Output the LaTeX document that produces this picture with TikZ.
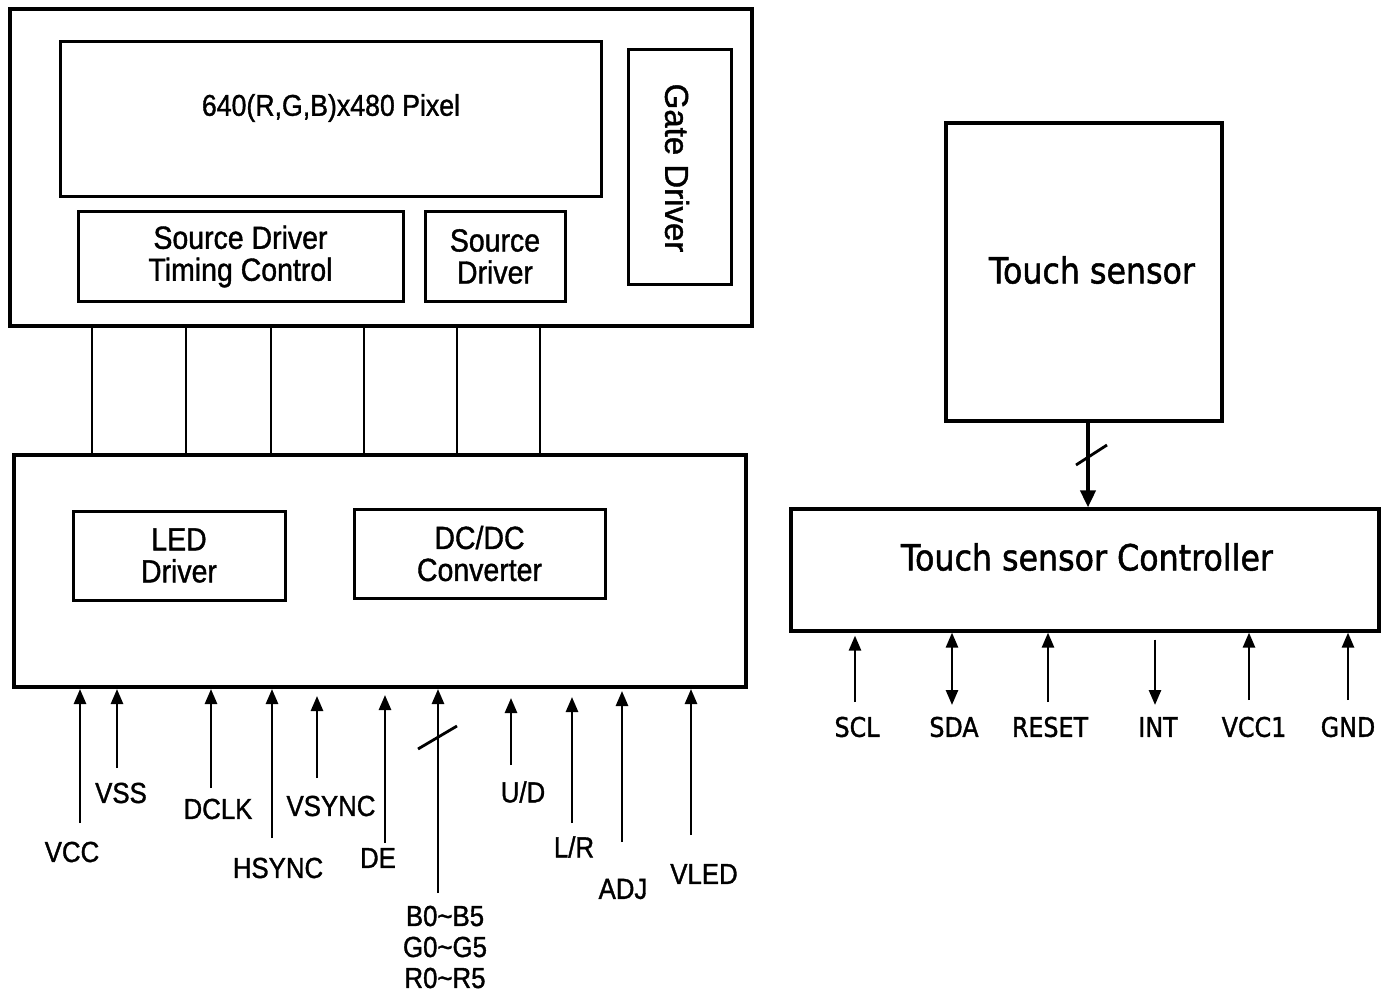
\documentclass[tikz,border=0pt]{standalone}
\usepackage{fontspec}
\usetikzlibrary{arrows.meta,calc}
\newfontfamily\arialc{Liberation Sans}[FakeStretch=0.89,FakeBold=1.2]
\newfontfamily\arialn{Liberation Sans}[FakeBold=1.2]
\newfontfamily\tah{DejaVu Sans}[FakeStretch=0.88,FakeBold=1.4]
\begin{document}
\begin{tikzpicture}[x=1pt,y=-1pt,
  outerbox/.style={draw,line width=4pt,inner sep=0pt},
  innerbox/.style={draw,line width=3pt,inner sep=0pt,align=center,font=\arialc\fontsize{32}{32}\selectfont},
  tbox/.style={draw,line width=3.2pt,inner sep=0pt},
  lbl/.style={inner sep=0pt,align=center,font=\arialc\fontsize{29}{31}\selectfont},
  plbl/.style={inner sep=0pt,font=\tah\fontsize{27}{27}\selectfont},
  conn/.style={line width=2.4pt},
  arr/.style={line width=2.6pt,-{Triangle[length=15pt,width=12pt]}},
  darr/.style={line width=2.6pt,{Triangle[length=15pt,width=12pt]}-{Triangle[length=15pt,width=12pt]}},
  slash/.style={line width=2.8pt}
]
\useasboundingbox[fill=white] (0,0) rectangle (1384,995);

% ---------- LCD module ----------
\node[outerbox,minimum width=742pt,minimum height=317pt] (topbox) at (381,167.5) {};
\node[innerbox,minimum width=541pt,minimum height=155pt] (pixel) at (330.5,119.5) {};
\node[inner sep=0pt,font=\arialc\fontsize{30}{30}\selectfont] (pixeltext) at (331,108) {640(R,G,B)x480 Pixel};
\node[innerbox,minimum width=103pt,minimum height=234pt] (gate) at (679.5,167) {};
\node[inner sep=0pt,rotate=-90,font=\arialn\fontsize{33}{33}\selectfont] (gatetext) at (677,168) {Gate Driver};
\node[innerbox,minimum width=325pt,minimum height=89pt] (sdtc) at (240.5,256.5) {Source Driver\\Timing Control};
\node[innerbox,minimum width=140pt,minimum height=89pt] (sd) at (495,256.5) {Source\\Driver};

\node[outerbox,minimum width=732pt,minimum height=232pt] (botbox) at (380,571) {};
\node[innerbox,minimum width=212pt,minimum height=89pt] (led) at (179,555.5) {LED\\Driver};
\node[innerbox,minimum width=251pt,minimum height=89pt] (dcdc) at (479.5,553.5) {DC/DC\\Converter};

% connections between the two blocks
\foreach \i/\xx in {1/92,2/186,3/271,4/364,5/457,6/540}{
  \coordinate (k\i) at (\xx,400);
  \draw[conn] (topbox.south -| k\i) -- (botbox.north -| k\i);
}

% ---------- input signals ----------
\coordinate (vccS) at (80,823);
\coordinate (vssS) at (117,768);
\coordinate (dclkS) at (211,788);
\coordinate (hsyncS) at (272,838);
\coordinate (vsyncS) at (317,778);
\coordinate (deS) at (385,843);
\coordinate (rgbS) at (438,893);
\coordinate (udS) at (511,765);
\coordinate (lrS) at (572,823);
\coordinate (adjS) at (622,842);
\coordinate (vledS) at (691,835);

\draw[arr] (vccS) -- (botbox.south -| vccS);
\draw[arr] (vssS) -- (botbox.south -| vssS);
\draw[arr] (dclkS) -- (botbox.south -| dclkS);
\draw[arr] (hsyncS) -- (botbox.south -| hsyncS);
\draw[arr,shorten >=7pt] (vsyncS) -- (botbox.south -| vsyncS);
\draw[arr,shorten >=6pt] (deS) -- (botbox.south -| deS);
\draw[arr] (rgbS) -- (botbox.south -| rgbS);
\draw[arr,shorten >=9pt] (udS) -- (botbox.south -| udS);
\draw[arr,shorten >=8pt] (lrS) -- (botbox.south -| lrS);
\draw[arr,shorten >=2pt] (adjS) -- (botbox.south -| adjS);
\draw[arr] (vledS) -- (botbox.south -| vledS);
\coordinate (rgbslash) at (438,737.5);
\draw[slash] ($(rgbslash)+(-20,11.5)$) -- ($(rgbslash)+(19,-11.5)$);

\node[lbl] (vcc) at (72,852) {VCC};
\node[lbl] (vss) at (121,793) {VSS};
\node[lbl] (dclk) at (218,809) {DCLK};
\node[lbl] (hsync) at (278,868) {HSYNC};
\node[lbl] (vsync) at (331,806) {VSYNC};
\node[lbl] (de) at (378,858) {DE};
\node[lbl] (rgb) at (445,947) {B0\textasciitilde B5\\G0\textasciitilde G5\\R0\textasciitilde R5};
\node[lbl] (ud) at (523,792) {U/D};
\node[lbl] (lr) at (574,847) {L/R};
\node[lbl] (adj) at (623,889) {ADJ};
\node[lbl] (vled) at (704,874) {VLED};

% ---------- touch panel ----------
\node[tbox,minimum width=276pt,minimum height=298pt] (tsens) at (1084,272) {};
\node[inner sep=0pt,font=\tah\fontsize{36}{36}\selectfont] (tsenstext) at (1092,270) {Touch sensor};
\node[tbox,minimum width=588pt,minimum height=122pt] (ctrl) at (1085,570) {};
\node[inner sep=0pt,font=\tah\fontsize{36}{36}\selectfont] (ctrltext) at (1087,557) {Touch sensor Controller};

\coordinate (bus) at (1088,470);
\draw[line width=3.8pt,-{Triangle[length=17pt,width=15pt]}] (tsens.south -| bus) -- (ctrl.north -| bus);
\coordinate (busslash) at (1091,455);
\draw[slash] ($(busslash)+(-15,10)$) -- ($(busslash)+(16,-10)$);

\coordinate (sclS) at (855,702);
\coordinate (sdaS) at (952,705);
\coordinate (rstS) at (1048,702);
\coordinate (intS) at (1155,705);
\coordinate (vcc1S) at (1249,700);
\coordinate (gndS) at (1348,700);
\draw[arr,shorten >=3pt] (sclS) -- (ctrl.south -| sclS);
\draw[darr] (sdaS) -- (ctrl.south -| sdaS);
\draw[arr] (rstS) -- (ctrl.south -| rstS);
\draw[arr,shorten <=7pt] (ctrl.south -| intS) -- (intS);
\draw[arr] (vcc1S) -- (ctrl.south -| vcc1S);
\draw[arr] (gndS) -- (ctrl.south -| gndS);

\node[plbl] (scl) at (857,727) {SCL};
\node[plbl] (sda) at (954,727) {SDA};
\node[plbl] (rst) at (1050,727) {RESET};
\node[plbl] (int) at (1158,727) {INT};
\node[plbl] (vcc1) at (1254,727) {VCC1};
\node[plbl] (gnd) at (1348,727) {GND};
\end{tikzpicture}
\end{document}
